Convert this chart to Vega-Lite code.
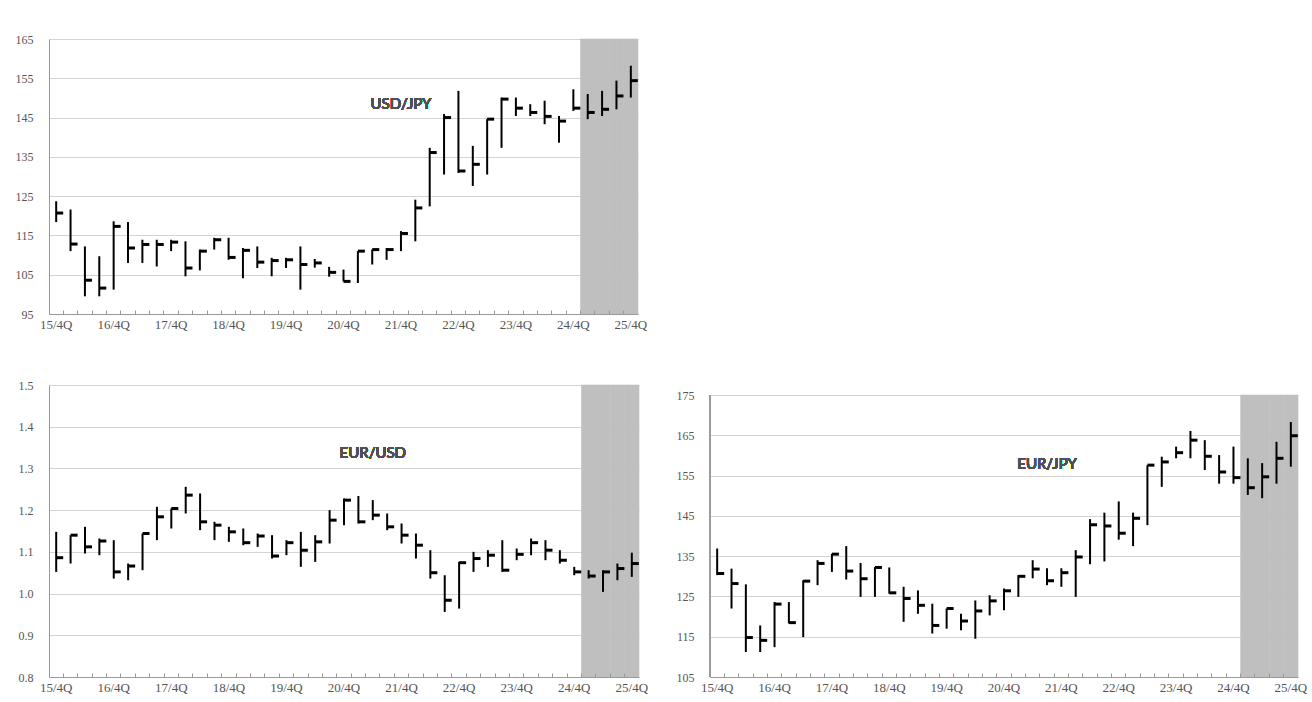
{
  "$schema": "https://vega.github.io/schema/vega-lite/v6.json",
  "background": "white",
  "padding": {"left": 12, "top": 33, "right": 5, "bottom": 5},
  "config": {
    "view": {"stroke": null},
    "axis": {"labelFont": "Liberation Serif", "labelFontSize": 12, "labelColor": "#555", "domainColor": "#999", "gridColor": "#d4d4d4", "tickColor": "#999"},
    "axisX": {"labelExpr": "indexof(datum.label, '/4Q') > 0 ? datum.label : ''", "bandPosition": 0, "labelAngle": 0, "labelOverlap": false, "labelBound": false, "labelPadding": 8, "labelFontSize": 13, "tickSize": -4, "grid": false, "title": null},
    "axisY": {"ticks": false, "labelPadding": 16, "labelOverlap": false, "minExtent": 37, "maxExtent": 37, "grid": true, "title": null},
    "text": {"font": "Lato", "fontSize": 15, "color": "#505050"}
  },
  "datasets": {
    "usdjpy": [
      {"q": "15/4Q", "h": 123.7, "l": 118.4, "c": 120.7},
      {"q": "16/1Q", "h": 121.6, "l": 111.0, "c": 112.8},
      {"q": "16/2Q", "h": 112.2, "l": 99.5, "c": 103.6},
      {"q": "16/3Q", "h": 109.7, "l": 99.5, "c": 101.6},
      {"q": "16/4Q", "h": 118.6, "l": 101.2, "c": 117.3},
      {"q": "17/1Q", "h": 118.4, "l": 108.0, "c": 111.8},
      {"q": "17/2Q", "h": 113.9, "l": 108.0, "c": 112.7},
      {"q": "17/3Q", "h": 113.9, "l": 107.1, "c": 112.7},
      {"q": "17/4Q", "h": 113.9, "l": 111.0, "c": 113.3},
      {"q": "18/1Q", "h": 113.5, "l": 104.6, "c": 106.7},
      {"q": "18/2Q", "h": 111.4, "l": 106.1, "c": 111.0},
      {"q": "18/3Q", "h": 114.4, "l": 111.4, "c": 113.9},
      {"q": "18/4Q", "h": 114.4, "l": 108.8, "c": 109.4},
      {"q": "19/1Q", "h": 111.8, "l": 104.1, "c": 111.2},
      {"q": "19/2Q", "h": 112.2, "l": 106.7, "c": 108.2},
      {"q": "19/3Q", "h": 109.3, "l": 104.6, "c": 108.6},
      {"q": "19/4Q", "h": 109.3, "l": 106.7, "c": 108.8},
      {"q": "20/1Q", "h": 112.2, "l": 101.2, "c": 107.6},
      {"q": "20/2Q", "h": 109.0, "l": 106.8, "c": 108.0},
      {"q": "20/3Q", "h": 107.0, "l": 104.5, "c": 105.6},
      {"q": "20/4Q", "h": 106.3, "l": 103.3, "c": 103.3},
      {"q": "21/1Q", "h": 111.0, "l": 102.9, "c": 111.0},
      {"q": "21/2Q", "h": 111.4, "l": 107.6, "c": 111.4},
      {"q": "21/3Q", "h": 111.8, "l": 108.8, "c": 111.4},
      {"q": "21/4Q", "h": 116.1, "l": 111.0, "c": 115.5},
      {"q": "22/1Q", "h": 124.1, "l": 113.5, "c": 122.0},
      {"q": "22/2Q", "h": 137.3, "l": 122.4, "c": 136.1},
      {"q": "22/3Q", "h": 145.9, "l": 130.5, "c": 145.0},
      {"q": "22/4Q", "h": 151.8, "l": 130.9, "c": 131.4},
      {"q": "23/1Q", "h": 137.8, "l": 127.6, "c": 133.1},
      {"q": "23/2Q", "h": 144.6, "l": 130.5, "c": 144.6},
      {"q": "23/3Q", "h": 150.1, "l": 137.3, "c": 149.7},
      {"q": "23/4Q", "h": 150.1, "l": 145.4, "c": 147.4},
      {"q": "24/1Q", "h": 148.4, "l": 145.4, "c": 146.3},
      {"q": "24/2Q", "h": 149.3, "l": 143.3, "c": 145.3},
      {"q": "24/3Q", "h": 145.4, "l": 138.6, "c": 144.1},
      {"q": "24/4Q", "h": 152.2, "l": 146.7, "c": 147.4},
      {"q": "25/1Q", "h": 151.0, "l": 144.6, "c": 146.3},
      {"q": "25/2Q", "h": 151.8, "l": 145.4, "c": 147.1},
      {"q": "25/3Q", "h": 154.4, "l": 147.1, "c": 150.5},
      {"q": "25/4Q", "h": 158.2, "l": 150.1, "c": 154.4}
    ],
    "eurusd": [
      {"q": "15/4Q", "h": 1.148, "l": 1.052, "c": 1.086},
      {"q": "16/1Q", "h": 1.140, "l": 1.072, "c": 1.140},
      {"q": "16/2Q", "h": 1.160, "l": 1.096, "c": 1.112},
      {"q": "16/3Q", "h": 1.132, "l": 1.092, "c": 1.126},
      {"q": "16/4Q", "h": 1.128, "l": 1.036, "c": 1.052},
      {"q": "17/1Q", "h": 1.072, "l": 1.032, "c": 1.066},
      {"q": "17/2Q", "h": 1.144, "l": 1.056, "c": 1.144},
      {"q": "17/3Q", "h": 1.208, "l": 1.128, "c": 1.184},
      {"q": "17/4Q", "h": 1.204, "l": 1.156, "c": 1.204},
      {"q": "18/1Q", "h": 1.256, "l": 1.192, "c": 1.236},
      {"q": "18/2Q", "h": 1.240, "l": 1.152, "c": 1.172},
      {"q": "18/3Q", "h": 1.172, "l": 1.128, "c": 1.164},
      {"q": "18/4Q", "h": 1.160, "l": 1.124, "c": 1.148},
      {"q": "19/1Q", "h": 1.156, "l": 1.116, "c": 1.122},
      {"q": "19/2Q", "h": 1.144, "l": 1.112, "c": 1.138},
      {"q": "19/3Q", "h": 1.140, "l": 1.084, "c": 1.090},
      {"q": "19/4Q", "h": 1.128, "l": 1.092, "c": 1.122},
      {"q": "20/1Q", "h": 1.148, "l": 1.064, "c": 1.104},
      {"q": "20/2Q", "h": 1.140, "l": 1.076, "c": 1.124},
      {"q": "20/3Q", "h": 1.200, "l": 1.120, "c": 1.176},
      {"q": "20/4Q", "h": 1.228, "l": 1.164, "c": 1.224},
      {"q": "21/1Q", "h": 1.234, "l": 1.168, "c": 1.172},
      {"q": "21/2Q", "h": 1.224, "l": 1.176, "c": 1.188},
      {"q": "21/3Q", "h": 1.192, "l": 1.152, "c": 1.160},
      {"q": "21/4Q", "h": 1.168, "l": 1.120, "c": 1.140},
      {"q": "22/1Q", "h": 1.144, "l": 1.084, "c": 1.116},
      {"q": "22/2Q", "h": 1.104, "l": 1.036, "c": 1.050},
      {"q": "22/3Q", "h": 1.044, "l": 0.956, "c": 0.984},
      {"q": "22/4Q", "h": 1.076, "l": 0.964, "c": 1.074},
      {"q": "23/1Q", "h": 1.100, "l": 1.052, "c": 1.084},
      {"q": "23/2Q", "h": 1.104, "l": 1.064, "c": 1.092},
      {"q": "23/3Q", "h": 1.128, "l": 1.052, "c": 1.056},
      {"q": "23/4Q", "h": 1.108, "l": 1.080, "c": 1.094},
      {"q": "24/1Q", "h": 1.132, "l": 1.092, "c": 1.122},
      {"q": "24/2Q", "h": 1.128, "l": 1.080, "c": 1.104},
      {"q": "24/3Q", "h": 1.104, "l": 1.072, "c": 1.080},
      {"q": "24/4Q", "h": 1.064, "l": 1.044, "c": 1.052},
      {"q": "25/1Q", "h": 1.056, "l": 1.036, "c": 1.042},
      {"q": "25/2Q", "h": 1.056, "l": 1.004, "c": 1.052},
      {"q": "25/3Q", "h": 1.072, "l": 1.032, "c": 1.060},
      {"q": "25/4Q", "h": 1.098, "l": 1.040, "c": 1.072}
    ],
    "eurjpy": [
      {"q": "15/4Q", "h": 136.9, "l": 130.3, "c": 130.7},
      {"q": "16/1Q", "h": 131.9, "l": 122.0, "c": 128.2},
      {"q": "16/2Q", "h": 128.0, "l": 111.2, "c": 114.8},
      {"q": "16/3Q", "h": 117.8, "l": 111.2, "c": 114.1},
      {"q": "16/4Q", "h": 123.6, "l": 112.4, "c": 123.1},
      {"q": "17/1Q", "h": 123.6, "l": 118.3, "c": 118.5},
      {"q": "17/2Q", "h": 129.0, "l": 114.9, "c": 128.8},
      {"q": "17/3Q", "h": 134.0, "l": 127.8, "c": 133.2},
      {"q": "17/4Q", "h": 135.6, "l": 131.1, "c": 135.5},
      {"q": "18/1Q", "h": 137.5, "l": 129.2, "c": 131.3},
      {"q": "18/2Q", "h": 133.3, "l": 124.9, "c": 129.4},
      {"q": "18/3Q", "h": 132.3, "l": 124.9, "c": 132.2},
      {"q": "18/4Q", "h": 132.2, "l": 125.7, "c": 125.9},
      {"q": "19/1Q", "h": 127.4, "l": 118.7, "c": 124.5},
      {"q": "19/2Q", "h": 126.5, "l": 120.7, "c": 122.8},
      {"q": "19/3Q", "h": 123.2, "l": 115.8, "c": 117.8},
      {"q": "19/4Q", "h": 122.0, "l": 117.0, "c": 122.0},
      {"q": "20/1Q", "h": 120.7, "l": 116.6, "c": 118.9},
      {"q": "20/2Q", "h": 124.0, "l": 114.5, "c": 121.4},
      {"q": "20/3Q", "h": 125.3, "l": 120.3, "c": 123.9},
      {"q": "20/4Q", "h": 127.0, "l": 121.6, "c": 126.4},
      {"q": "21/1Q", "h": 130.3, "l": 124.9, "c": 130.0},
      {"q": "21/2Q", "h": 134.0, "l": 129.5, "c": 131.8},
      {"q": "21/3Q", "h": 132.0, "l": 127.8, "c": 128.9},
      {"q": "21/4Q", "h": 132.0, "l": 127.4, "c": 130.9},
      {"q": "22/1Q", "h": 136.5, "l": 124.9, "c": 134.8},
      {"q": "22/2Q", "h": 144.2, "l": 133.0, "c": 142.8},
      {"q": "22/3Q", "h": 145.8, "l": 133.7, "c": 142.5},
      {"q": "22/4Q", "h": 148.6, "l": 139.1, "c": 140.7},
      {"q": "23/1Q", "h": 145.8, "l": 137.5, "c": 144.4},
      {"q": "23/2Q", "h": 157.6, "l": 142.7, "c": 157.6},
      {"q": "23/3Q", "h": 159.7, "l": 152.2, "c": 158.4},
      {"q": "23/4Q", "h": 162.2, "l": 159.3, "c": 160.7},
      {"q": "24/1Q", "h": 166.1, "l": 159.3, "c": 163.8},
      {"q": "24/2Q", "h": 163.8, "l": 156.4, "c": 159.8},
      {"q": "24/3Q", "h": 160.1, "l": 153.0, "c": 155.9},
      {"q": "24/4Q", "h": 162.2, "l": 153.0, "c": 154.5},
      {"q": "25/1Q", "h": 159.3, "l": 150.2, "c": 152.0},
      {"q": "25/2Q", "h": 158.1, "l": 149.4, "c": 154.7},
      {"q": "25/3Q", "h": 163.4, "l": 153.0, "c": 159.3},
      {"q": "25/4Q", "h": 168.3, "l": 157.2, "c": 164.9}
    ]
  },
  "spacing": 48,
  "vconcat": [
    {
      "width": 589,
      "height": 275,
      "data": {"name": "usdjpy"},
      "encoding": {"x": {"field": "q", "type": "ordinal", "sort": null, "title": null, "scale": {"paddingInner": 0, "paddingOuter": 0, "domain": ["15/4Q","16/1Q","16/2Q","16/3Q","16/4Q","17/1Q","17/2Q","17/3Q","17/4Q","18/1Q","18/2Q","18/3Q","18/4Q","19/1Q","19/2Q","19/3Q","19/4Q","20/1Q","20/2Q","20/3Q","20/4Q","21/1Q","21/2Q","21/3Q","21/4Q","22/1Q","22/2Q","22/3Q","22/4Q","23/1Q","23/2Q","23/3Q","23/4Q","24/1Q","24/2Q","24/3Q","24/4Q","25/1Q","25/2Q","25/3Q","25/4Q"]}}},
      "layer": [
        {
          "transform": [{"filter": "indexof(datum.q, '25/') == 0"}],
          "mark": {"type": "rect", "color": "#bfbfbf", "stroke": "#bfbfbf", "strokeWidth": 0.6},
          "encoding": {
            "y": {"datum": 165, "type": "quantitative", "title": null, "scale": {"domain": [95, 165], "nice": false, "zero": false}, "axis": {"values": [95, 105, 115, 125, 135, 145, 155, 165]}},
            "y2": {"datum": 95}
          }
        },
        {
          "mark": {"type": "rule", "color": "#000", "strokeWidth": 2},
          "encoding": {"y": {"field": "l", "type": "quantitative", "title": null, "scale": {"domain": [95, 165], "nice": false, "zero": false}, "axis": {"values": [95, 105, 115, 125, 135, 145, 155, 165]}}, "y2": {"field": "h"}}
        },
        {
          "mark": {"type": "tick", "color": "#000", "size": 7, "thickness": 3, "xOffset": 3.5, "opacity": 1},
          "encoding": {"y": {"field": "c", "type": "quantitative", "title": null, "scale": {"domain": [95, 165], "nice": false, "zero": false}, "axis": {"values": [95, 105, 115, 125, 135, 145, 155, 165]}}}
        },
        {
          "mark": {"type": "text", "align": "center", "baseline": "middle"},
          "encoding": {"x": {"datum": "21/4Q"}, "y": {"datum": 148.5, "type": "quantitative", "title": null, "scale": {"domain": [95, 165], "nice": false, "zero": false}, "axis": {"values": [95, 105, 115, 125, 135, 145, 155, 165]}}, "text": {"value": "USD/JPY"}}
        }
      ]
    },
    {
      "spacing": 25,
      "hconcat": [
        {
          "width": 590,
          "height": 292,
          "data": {"name": "eurusd"},
          "encoding": {"x": {"field": "q", "type": "ordinal", "sort": null, "title": null, "scale": {"paddingInner": 0, "paddingOuter": 0, "domain": ["15/4Q","16/1Q","16/2Q","16/3Q","16/4Q","17/1Q","17/2Q","17/3Q","17/4Q","18/1Q","18/2Q","18/3Q","18/4Q","19/1Q","19/2Q","19/3Q","19/4Q","20/1Q","20/2Q","20/3Q","20/4Q","21/1Q","21/2Q","21/3Q","21/4Q","22/1Q","22/2Q","22/3Q","22/4Q","23/1Q","23/2Q","23/3Q","23/4Q","24/1Q","24/2Q","24/3Q","24/4Q","25/1Q","25/2Q","25/3Q","25/4Q"]}}},
          "layer": [
            {
              "transform": [{"filter": "indexof(datum.q, '25/') == 0"}],
              "mark": {"type": "rect", "color": "#bfbfbf", "stroke": "#bfbfbf", "strokeWidth": 0.6},
              "encoding": {
                "y": {"datum": 1.5, "type": "quantitative", "title": null, "scale": {"domain": [0.8, 1.5], "nice": false, "zero": false}, "axis": {"values": [0.8, 0.9, 1.0, 1.1, 1.2, 1.3, 1.4, 1.5], "format": ".1f"}},
                "y2": {"datum": 0.8}
              }
            },
            {
              "mark": {"type": "rule", "color": "#000", "strokeWidth": 2},
              "encoding": {"y": {"field": "l", "type": "quantitative", "title": null, "scale": {"domain": [0.8, 1.5], "nice": false, "zero": false}, "axis": {"values": [0.8, 0.9, 1.0, 1.1, 1.2, 1.3, 1.4, 1.5], "format": ".1f"}}, "y2": {"field": "h"}}
            },
            {
              "mark": {"type": "tick", "color": "#000", "size": 7, "thickness": 3, "xOffset": 3.5, "opacity": 1},
              "encoding": {"y": {"field": "c", "type": "quantitative", "title": null, "scale": {"domain": [0.8, 1.5], "nice": false, "zero": false}, "axis": {"values": [0.8, 0.9, 1.0, 1.1, 1.2, 1.3, 1.4, 1.5], "format": ".1f"}}}
            },
            {
              "mark": {"type": "text", "align": "center", "baseline": "middle"},
              "encoding": {"x": {"datum": "21/2Q"}, "y": {"datum": 1.338, "type": "quantitative", "title": null, "scale": {"domain": [0.8, 1.5], "nice": false, "zero": false}, "axis": {"values": [0.8, 0.9, 1.0, 1.1, 1.2, 1.3, 1.4, 1.5], "format": ".1f"}}, "text": {"value": "EUR/USD"}}
            }
          ]
        },
        {
          "width": 588,
          "height": 292,
          "data": {"name": "eurjpy"},
          "encoding": {"x": {"field": "q", "type": "ordinal", "sort": null, "title": null, "scale": {"paddingInner": 0, "paddingOuter": 0, "domain": ["15/4Q","16/1Q","16/2Q","16/3Q","16/4Q","17/1Q","17/2Q","17/3Q","17/4Q","18/1Q","18/2Q","18/3Q","18/4Q","19/1Q","19/2Q","19/3Q","19/4Q","20/1Q","20/2Q","20/3Q","20/4Q","21/1Q","21/2Q","21/3Q","21/4Q","22/1Q","22/2Q","22/3Q","22/4Q","23/1Q","23/2Q","23/3Q","23/4Q","24/1Q","24/2Q","24/3Q","24/4Q","25/1Q","25/2Q","25/3Q","25/4Q"]}}},
          "layer": [
            {
              "transform": [{"filter": "indexof(datum.q, '25/') == 0"}],
              "mark": {"type": "rect", "color": "#bfbfbf", "stroke": "#bfbfbf", "strokeWidth": 0.6},
              "encoding": {
                "y": {"datum": 175, "type": "quantitative", "title": null, "scale": {"domain": [105, 177.5], "nice": false, "zero": false}, "axis": {"values": [105, 115, 125, 135, 145, 155, 165, 175], "domain": false}},
                "y2": {"datum": 105}
              }
            },
            {
              "mark": {"type": "rule", "color": "#999", "strokeWidth": 1},
              "encoding": {"x": {"datum": "15/4Q", "bandPosition": 0}, "y": {"datum": 105, "type": "quantitative", "title": null, "scale": {"domain": [105, 177.5], "nice": false, "zero": false}, "axis": {"values": [105, 115, 125, 135, 145, 155, 165, 175], "domain": false}}, "y2": {"datum": 175}}
            },
            {
              "mark": {"type": "rule", "color": "#000", "strokeWidth": 2},
              "encoding": {"y": {"field": "l", "type": "quantitative", "title": null, "scale": {"domain": [105, 177.5], "nice": false, "zero": false}, "axis": {"values": [105, 115, 125, 135, 145, 155, 165, 175], "domain": false}}, "y2": {"field": "h"}}
            },
            {
              "mark": {"type": "tick", "color": "#000", "size": 7, "thickness": 3, "xOffset": 3.5, "opacity": 1},
              "encoding": {"y": {"field": "c", "type": "quantitative", "title": null, "scale": {"domain": [105, 177.5], "nice": false, "zero": false}, "axis": {"values": [105, 115, 125, 135, 145, 155, 165, 175], "domain": false}}}
            },
            {
              "mark": {"type": "text", "align": "center", "baseline": "middle"},
              "encoding": {"x": {"datum": "21/3Q"}, "y": {"datum": 158.0, "type": "quantitative", "title": null, "scale": {"domain": [105, 177.5], "nice": false, "zero": false}, "axis": {"values": [105, 115, 125, 135, 145, 155, 165, 175], "domain": false}}, "text": {"value": "EUR/JPY"}}
            }
          ]
        }
      ]
    }
  ]
}
